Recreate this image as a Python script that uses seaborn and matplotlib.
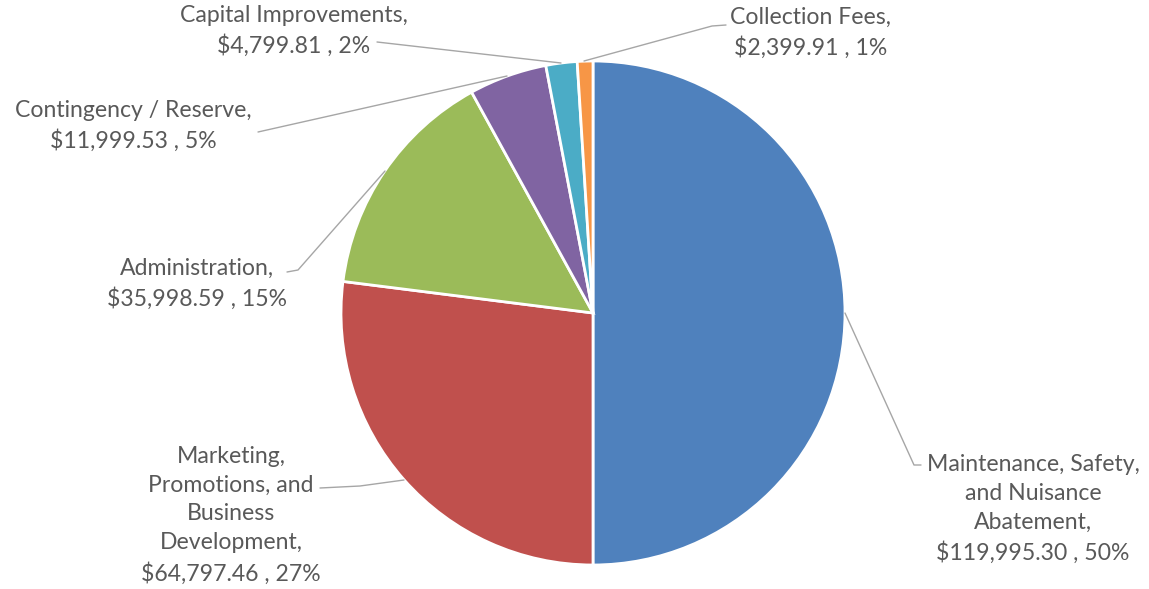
import matplotlib.pyplot as plt
import seaborn as sns

# Budget categories and amounts
categories = [
    "Maintenance, Safety,\nand Nuisance\nAbatement,",
    "Marketing,\nPromotions, and\nBusiness\nDevelopment,",
    "Administration,",
    "Contingency / Reserve,",
    "Capital Improvements,",
    "Collection Fees,",
]
amounts = [119995.30, 64797.46, 35998.59, 11999.53, 4799.81, 2399.91]
percents = [50, 27, 15, 5, 2, 1]
colors = ["#4F81BD", "#C0504D", "#9BBB59", "#8064A2", "#4BACC6", "#F79646"]

sns.set_theme(style="white")
plt.rcParams['font.family'] = ['Lato', 'DejaVu Sans']

W, H = 1149, 589
fig = plt.figure(figsize=(W / 100, H / 100), dpi=100)
ax = fig.add_axes([0, 0, 1, 1])

cx, cy, r = 593, H - 313, 252
ax.pie(amounts, colors=colors, startangle=90, counterclock=False,
       center=(cx, cy), radius=r, frame=True,
       wedgeprops=dict(edgecolor='white', linewidth=2))
ax.set_xlim(0, W)
ax.set_ylim(0, H)
ax.set_aspect('equal')
ax.axis('off')

# label layout: (text center x, text center y in pixels from top)
label_pos = [(1033, 509), (231, 515), (197, 284), (133, 126), (294, 31), (811, 33)]
# leader lines in pixel coords (from top)
leaders = [
    [(845, 313), (914, 465), (921, 465)],
    [(404, 480), (360, 486), (320, 488)],
    [(385, 171), (298, 270), (287, 272)],
    [(507, 76), (258, 132)],
    [(561, 63), (377, 42)],
    [(584, 61), (712, 26), (726, 25)],
]

for name, amt, pct, (tx, ty), pts in zip(categories, amounts, percents, label_pos, leaders):
    xs = [p[0] for p in pts]
    ys = [H - p[1] for p in pts]
    ax.plot(xs, ys, color='#a6a6a6', linewidth=1)
    txt = f"{name}\n${amt:,.2f} , {pct}%"
    ax.text(tx, H - ty, txt, ha='center', va='center', fontsize=16.6,
            color='#595959', linespacing=1.46)

fig.savefig('out.png', dpi=100)
